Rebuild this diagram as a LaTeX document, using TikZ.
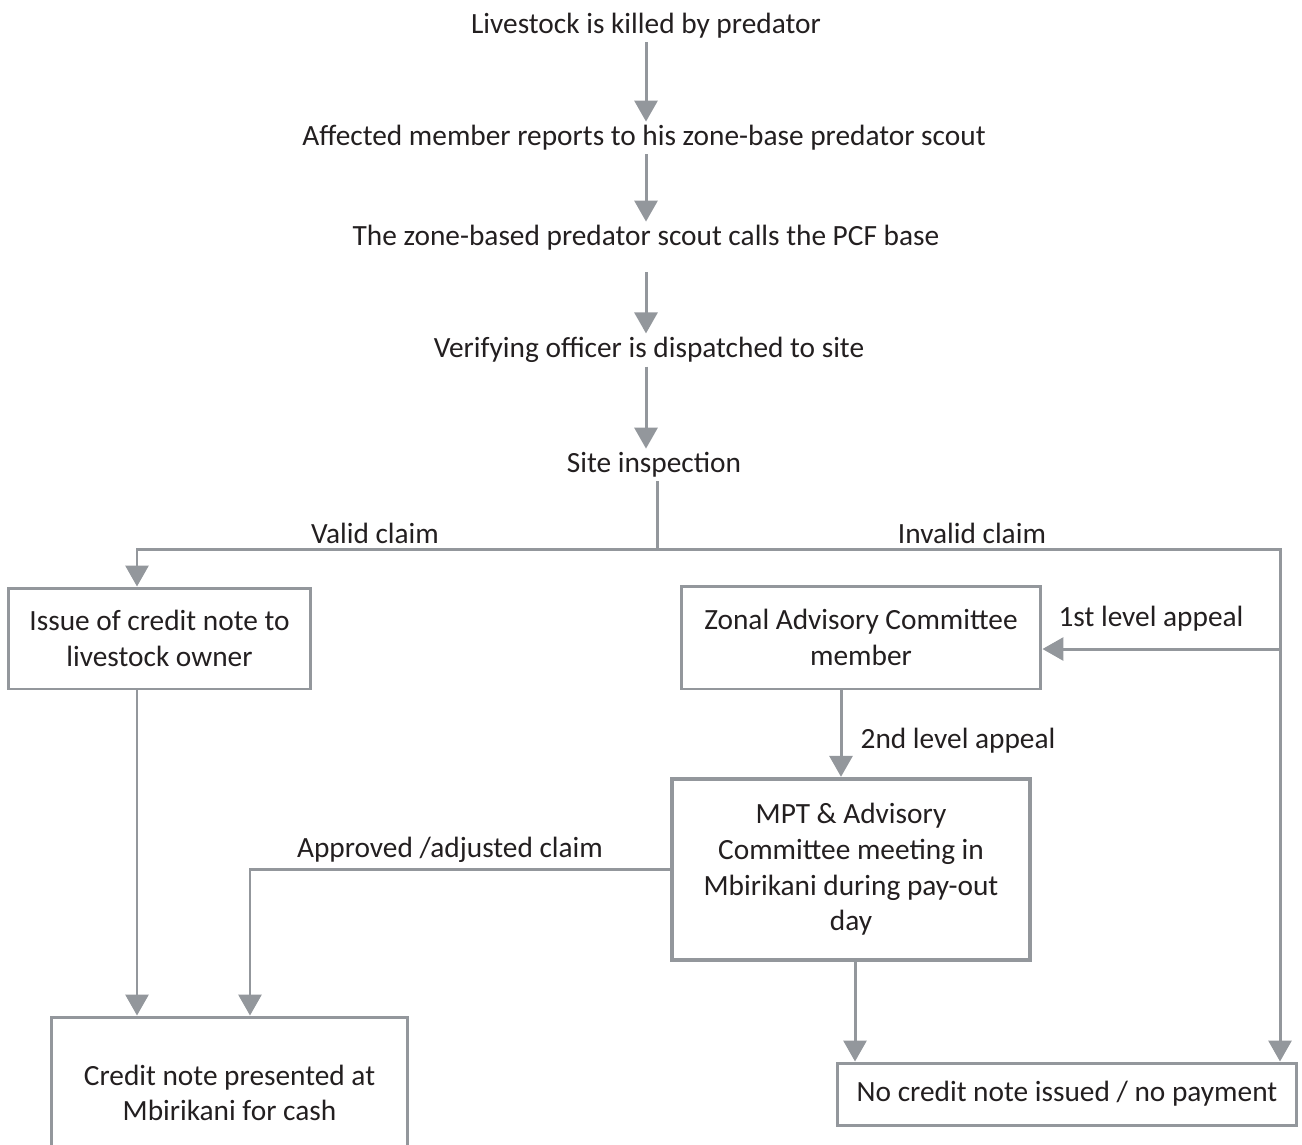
\documentclass[tikz,border=0pt]{standalone}
\usepackage{fontspec}
\setmainfont{Carlito}
\usepackage{tikz}
\usetikzlibrary{arrows.meta,calc}
\definecolor{linegray}{RGB}{147,151,156}
\definecolor{textdark}{RGB}{35,31,32}

\begin{document}
\begin{tikzpicture}[x=0.02cm,y=-0.02cm,>={Triangle[width=0.46cm,length=0.42cm]},font=\fontsize{16.7}{20.3}\selectfont,text=textdark]
\tikzset{t/.style={inner sep=2pt},
b/.style={draw=linegray,line width=1.7pt,fill=white,align=center,inner sep=0pt},
ln/.style={draw=linegray,line width=1.7pt},
a/.style={ln,->}}
\useasboundingbox (0,0) rectangle (1302,1144);
\node[t] (n1) at (646,26) {Livestock is killed by predator};
\node[t] (n2) at (644,138) {Affected member reports to his zone-base predator scout};
\node[t] (n3) at (646,238) {The zone-based predator scout calls the PCF base};
\node[t] (n4) at (649,350) {Verifying officer is dispatched to site};
\node[t] (n5) at (654,465) {Site inspection};
\node[b,minimum width=6.06cm,minimum height=2.02cm] (b1) at (159.5,638.5) {Issue of credit note to\\livestock owner};
\node[b,minimum width=7.2cm,minimum height=2.06cm] (zac) at (861,637.5) {Zonal Advisory Committee\\member};
\node[b,line width=2.5pt,minimum width=7.16cm,minimum height=3.62cm] (mpt) at (851,869.5) {MPT \& Advisory\\Committee meeting in\\Mbirikani during pay-out\\day};
\node[b,minimum width=7.14cm,minimum height=3.04cm] (cn) at (229.5,1093) {Credit note presented at\\Mbirikani for cash};
\node[b,minimum width=9.2cm,minimum height=1.24cm] (nc) at (1067,1094) {No credit note issued / no payment};
\node[t] (lv) at (375,533) {Valid claim};
\node[t] (li) at (972,533) {Invalid claim};
\node[t] (l1) at (1151,619) {1st level appeal};
\node[t] (l2) at (958,741) {2nd level appeal};
\node[t] (la) at (450,850) {Approved /adjusted claim};
\coordinate (split) at (657,549);
\coordinate (lcol) at (137,549);
\coordinate (rcol) at (1280,549);
\coordinate (appeal) at (1280,649);
\coordinate (z2) at ([xshift=-0.4cm]zac.south);
\coordinate (m2) at ([xshift=0.08cm]mpt.south);
\coordinate (c2) at ([xshift=0.41cm]cn.north);
\draw[a] (n1.south) -- (n1.south |- n2.north);
\draw[a] (n2.south -| n1.south) -- (n1.south |- n3.north);
\draw[a,shorten <=0.36cm] (n3.south -| n1.south) -- (n1.south |- n4.north);
\draw[a] (n4.south -| n1.south) -- (n1.south |- n5.north);
\draw[ln] (n5.south -| split) -- (split);
\draw[a] (split) -- (lcol) -- (lcol |- b1.north);
\draw[a] (split) -- (rcol) -- (rcol |- nc.north);
\draw[a] (lcol |- b1.south) -- (lcol |- cn.north);
\draw[a] (appeal) -- (appeal -| zac.east);
\draw[a] (z2) -- (z2 |- mpt.north);
\draw[a] (m2) -- (m2 |- nc.north);
\draw[a] (mpt.west) -| (c2);
\end{tikzpicture}
\end{document}
